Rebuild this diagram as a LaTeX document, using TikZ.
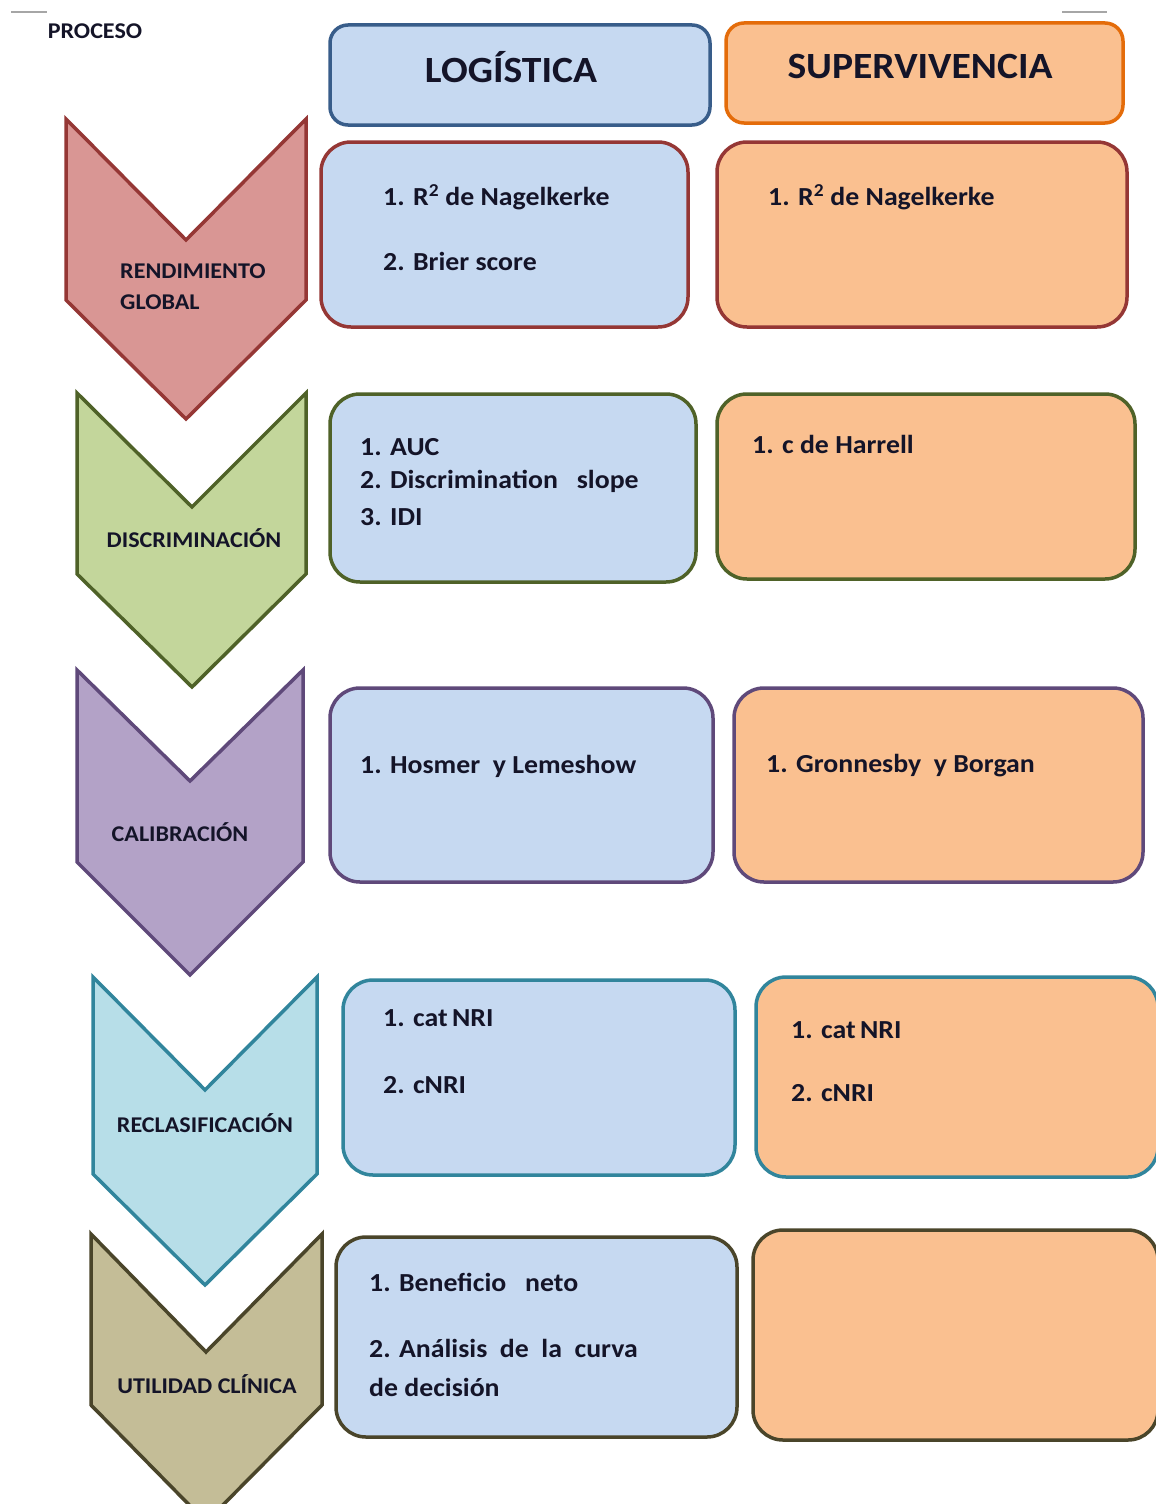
\documentclass[tikz,border=0pt]{standalone}
\usepackage{fontspec}
\setmainfont[FakeStretch=1.07]{Carlito}
\definecolor{bfill}{HTML}{C6D9F1}
\definecolor{bline}{HTML}{385D8A}
\definecolor{ofill}{HTML}{FAC090}
\definecolor{oline}{HTML}{E46C0A}
\definecolor{rfill}{HTML}{D99694}
\definecolor{rline}{HTML}{953735}
\definecolor{gfill}{HTML}{C3D69B}
\definecolor{gline}{HTML}{4F6228}
\definecolor{pfill}{HTML}{B3A2C7}
\definecolor{pline}{HTML}{5F497A}
\definecolor{cfill}{HTML}{B7DEE8}
\definecolor{cline}{HTML}{31859C}
\definecolor{tfill}{HTML}{C4BD97}
\definecolor{tline}{HTML}{4A452A}
\definecolor{txt}{HTML}{141428}
\tikzset{
  chev/.style={line width=3.5pt, line join=miter},
  cbox/.style={line width=3.5pt, rounded corners=30pt},
  hbox/.style={line width=3.5pt, rounded corners=18pt},
  htext/.style={font=\fontsize{37}{42}\selectfont\bfseries, text=txt},
  ltext/.style={font=\fontsize{22.5}{31}\selectfont\bfseries, text=txt, inner sep=0pt},
  btext/.style={font=\fontsize{26}{30}\selectfont\bfseries, text=txt, anchor=west, inner sep=0pt},
}
\begin{document}
\begin{tikzpicture}[x=1pt,y=-1pt]
\useasboundingbox (0,0) rectangle (1156,1504);
\clip (0,0) rectangle (1156,1504);
\fill[white] (0,0) rectangle (1156,1504);
% top small lines
\draw[gray!70, line width=2pt] (11,12) -- (47,12);
\draw[gray!70, line width=2pt] (1062,12) -- (1107,12);
\node[font=\fontsize{22.5}{26}\selectfont\bfseries, text=txt, inner sep=0pt] (proceso) at (95,31) {PROCESO};
% headers
\draw[hbox, draw=bline, fill=bfill] (330,25) rectangle (710,125);
\node[htext] (hlog) at (511,67) {LOGÍSTICA};
\draw[hbox, draw=oline, fill=ofill] (726,23) rectangle (1123,123);
\node[htext] (hsup) at (920,67) {SUPERVIVENCIA};
% chevrons
\draw[chev, draw=rline, fill=rfill] (66,119) -- (186,240) -- (306,119) -- (306,300) -- (186,419) -- (66,300) -- cycle;
\node[ltext, align=left, anchor=west] (c1) at (120,287) {RENDIMIENTO\\GLOBAL};
\draw[chev, draw=gline, fill=gfill] (77,393) -- (192,507) -- (306,393) -- (306,574) -- (192,687) -- (77,574) -- cycle;
\node[ltext] (c2) at (194,538) {DISCRIMINACIÓN};
\draw[chev, draw=pline, fill=pfill] (77,670) -- (190,781) -- (303,670) -- (303,862) -- (190,975) -- (77,862) -- cycle;
\node[ltext] (c3) at (180,832) {CALIBRACIÓN};
\draw[chev, draw=cline, fill=cfill] (93,977) -- (205,1090) -- (317,977) -- (317,1174) -- (205,1285) -- (93,1174) -- cycle;
\node[ltext] (c4) at (205,1123) {RECLASIFICACIÓN};
\draw[chev, draw=tline, fill=tfill] (91,1234) -- (206,1352) -- (322,1234) -- (322,1405) -- (206,1522) -- (91,1405) -- cycle;
\node[ltext] (c5) at (207,1384) {UTILIDAD CLÍNICA};
% row 1
\draw[cbox, draw=rline, fill=bfill] (321,142) rectangle (688,327);
\node[btext] (l1a) at (383,197) {1. R\textsuperscript{2} de Nagelkerke};
\node[btext] (l1b) at (383,261) {2. Brier score};
\draw[cbox, draw=rline, fill=ofill] (717,142) rectangle (1127,327);
\node[btext] (r1a) at (768,197) {1. R\textsuperscript{2} de Nagelkerke};
% row 2
\draw[cbox, draw=gline, fill=bfill] (330,394) rectangle (696,582);
\node[btext] (l2a) at (360,447) {1. AUC};
\node[btext] (l2b) at (360,481) {2. Discrimination\ \ \ slope};
\node[btext] (l2c) at (360,517) {3. IDI};
\draw[cbox, draw=gline, fill=ofill] (717,394) rectangle (1135,579);
\node[btext] (r2a) at (752,444) {1. c de Harrell};
% row 3
\draw[cbox, draw=pline, fill=bfill] (330,688) rectangle (713,882);
\node[btext] (l3a) at (360,766) {1. Hosmer\ \ y Lemeshow};
\draw[cbox, draw=pline, fill=ofill] (734,688) rectangle (1143,882);
\node[btext] (r3a) at (766,766) {1. Gronnesby\ \ y Borgan};
% row 4
\draw[cbox, draw=cline, fill=bfill] (343,980) rectangle (735,1175);
\node[btext] (l4a) at (383,1018) {1. cat\,NRI};
\node[btext] (l4b) at (383,1085) {2. cNRI};
\draw[cbox, draw=cline, fill=ofill] (756,977) rectangle (1158,1177);
\node[btext] (r4a) at (791,1030) {1. cat\,NRI};
\node[btext] (r4b) at (791,1093) {2. cNRI};
% row 5
\draw[cbox, draw=tline, fill=bfill] (336,1237) rectangle (737,1437);
\node[btext] (l5a) at (369,1282) {1. Beneficio\ \ \ neto};
\node[btext] (l5b) at (369,1348) {2. Análisis\ \ de\ \ la\ \ curva};
\node[btext] (l5c) at (369,1387) {de decisión};
\draw[cbox, draw=tline, fill=ofill] (753,1230) rectangle (1158,1440);
\end{tikzpicture}
\end{document}
